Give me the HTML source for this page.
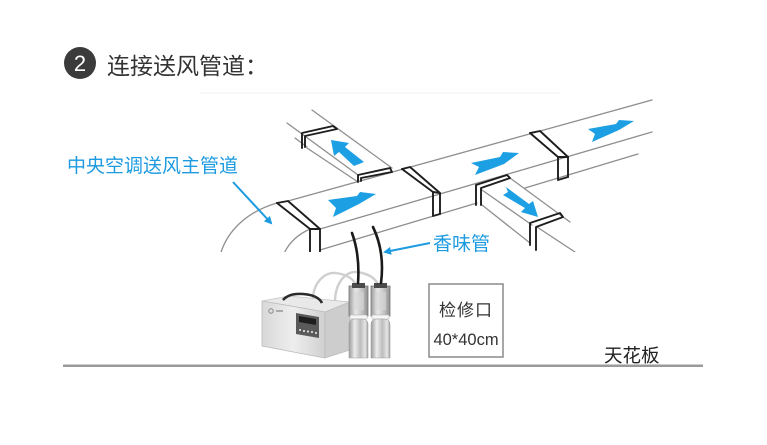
<!DOCTYPE html>
<html><head><meta charset="utf-8"><style>
html,body{margin:0;padding:0;background:#fff;}
svg{display:block;}
</style></head><body>
<svg width="767" height="445" viewBox="0 0 767 445" xmlns="http://www.w3.org/2000/svg">
<defs>
<clipPath id="cl"><rect x="0" y="0" width="767" height="252"/></clipPath>
<linearGradient id="front" x1="0" y1="0" x2="1" y2="0">
<stop offset="0" stop-color="#d8d8d8"/><stop offset="0.5" stop-color="#eeeeee"/><stop offset="1" stop-color="#d0d0d0"/></linearGradient>
<linearGradient id="bot" x1="0" y1="0" x2="1" y2="0">
<stop offset="0" stop-color="#9a9a9a"/><stop offset="0.3" stop-color="#ececec"/><stop offset="0.6" stop-color="#bdbdbd"/><stop offset="0.85" stop-color="#e6e6e6"/><stop offset="1" stop-color="#a2a2a2"/></linearGradient>
<linearGradient id="top" x1="0" y1="0" x2="1" y2="0">
<stop offset="0" stop-color="#9a9a9a"/><stop offset="0.35" stop-color="#e8e8e8"/><stop offset="0.7" stop-color="#c2c2c2"/><stop offset="1" stop-color="#8e8e8e"/></linearGradient>
<marker id="ah" markerWidth="8" markerHeight="8" refX="6" refY="4" orient="auto" markerUnits="userSpaceOnUse">
<path d="M0,0 L8,4 L0,8 z" fill="#1c9be0"/></marker>
</defs>

<!-- title -->
<circle cx="80" cy="63" r="16" fill="#3b3b3b"/>
<text x="80" y="71" font-family="Liberation Sans, sans-serif" font-size="22" fill="#fff" text-anchor="middle">2</text>
<text x="107" y="74" font-family="Liberation Sans, 'Noto Sans CJK SC', sans-serif" font-size="23" fill="#333">连接送风管道：</text>

<line x1="200" y1="93" x2="560" y2="93" stroke="#f6f6f6" stroke-width="1.5"/>

<!-- duct -->
<g clip-path="url(#cl)" fill="none" stroke-linecap="round">
<g stroke="#8f8f8f" stroke-width="1.3">
<path d="M277,203 C246,212 226,232 220,256"/>
<path d="M310,229 Q290,238 283,256"/>
<line x1="288" y1="201" x2="652" y2="100"/>
<line x1="320" y1="229" x2="652" y2="132"/>
<line x1="320" y1="250" x2="477" y2="203"/>
<line x1="525" y1="188" x2="638" y2="154"/>
<!-- upper branch -->
<line x1="287" y1="123" x2="358" y2="175"/>
<line x1="295" y1="138" x2="307" y2="147"/>
<line x1="307" y1="148" x2="358" y2="182"/>
<line x1="312" y1="110" x2="392" y2="168"/>
<!-- lower branch -->
<line x1="482" y1="190" x2="532" y2="225"/>
<line x1="510" y1="178" x2="570" y2="222"/>
<line x1="482" y1="205" x2="530" y2="243"/>
<line x1="537" y1="227" x2="575" y2="252"/>
</g>
<g stroke="#1e1e1e" stroke-width="1.9" stroke-linejoin="round">
<!-- left collar -->
<path d="M277,203 L288,201 L320,229 L320,256"/>
<path d="M277,203 L310,229 L310,256"/>
<path d="M310,229 L320,229"/>
<!-- middle collar -->
<path d="M402,169 L410,167 L440,193 L440,214"/>
<path d="M402,169 L433,192 L433,216 L440,214"/>
<path d="M433,192 L440,193"/>
<!-- right collar -->
<path d="M530,133 L540,131 L568,157 L568,177"/>
<path d="M530,133 L558,157 L558,180 L568,177"/>
<path d="M558,157 L568,157"/>
<!-- upper branch collars -->
<path d="M302,148 L302,133 L333,126 L337,129 L305,136 L305,147"/>
<path d="M358,182 L358,175 L390,168 L392,172 L361,178 L361,181"/>
<!-- lower branch collars -->
<path d="M476,205 L476,185 L507,175 L510,178 L481,188 L481,205"/>
<path d="M530,245 L530,223 L560,213 L563,217 L536,227 L536,250"/>
</g>
<g fill="#1c9fe3" stroke="none">
<polygon points="328,200 357,196 360,192 376,194 359,204 333,217 336,208"/>
<polygon points="471,163 500,157 503,152 519,153 504,164 475,175 479,167"/>
<polygon points="588,129 616,124 619,120 634,121 619,130 592,142 595,134"/>
<polygon points="331,140 349,143 345,147 364,162 354,166 339,152 334,156"/>
<polygon points="506,187 529,204 533,201 538,217 521,212 525,208 503,195 508,192"/>
</g>
</g>

<!-- labels -->
<text x="67" y="172" font-family="Liberation Sans, 'Noto Sans CJK SC', sans-serif" font-size="19" fill="#1c9be0">中央空调送风主管道</text>
<line x1="233" y1="182" x2="271" y2="223" stroke="#1c9be0" stroke-width="2" marker-end="url(#ah)"/>
<text x="433" y="250" font-family="Liberation Sans, 'Noto Sans CJK SC', sans-serif" font-size="19" fill="#1c9be0">香味管</text>
<line x1="430" y1="243" x2="385" y2="252" stroke="#1c9be0" stroke-width="2" marker-end="url(#ah)"/>

<!-- clear tubes -->
<g fill="none" stroke="#cfcfcf" stroke-width="2.4">
<path d="M313,302 C312,286 322,272 336,273 C349,275 355,280 356,287"/>
<path d="M335,302 C335,285 344,271 357,272 C371,274 377,280 379,287"/>
</g>

<!-- machine -->
<polygon points="262,301 289,296 350,302 325,312" fill="#e9e9e9" stroke="#c4c4c4" stroke-width="0.8"/>
<polygon points="262,301 325,312 325,358 262,346" fill="url(#front)" stroke="#bdbdbd" stroke-width="0.8"/>
<polygon points="325,312 350,302 350,350 325,358" fill="#cdcdcd" stroke="#bdbdbd" stroke-width="0.8"/>
<path d="M283,300 Q289,293 303,294 Q318,295 322,303" fill="none" stroke="#2a2a2a" stroke-width="2.6"/>
<polygon points="296,313 319,317 319,338 296,334" fill="#5a5a5a"/>
<polygon points="299,316 316,319 316,325 299,322" fill="#1e1e1e"/>
<g fill="#f2f2f2"><circle cx="300" cy="330" r="1"/><circle cx="304" cy="331" r="1"/><circle cx="308" cy="331.5" r="1"/><circle cx="312" cy="332" r="1"/><circle cx="316" cy="333" r="1"/></g>
<circle cx="271" cy="311" r="2.2" fill="none" stroke="#888" stroke-width="1"/>
<rect x="276" y="310" width="7" height="2" fill="#aaa"/>

<!-- bottles -->
<g>
<rect x="349" y="286" width="19" height="30" fill="url(#top)" stroke="#777" stroke-width="0.8"/>
<rect x="352" y="283" width="13" height="5" fill="#4a4a4a"/>
<rect x="353" y="292" width="11" height="18" fill="#d6d6d6" opacity="0.6"/>
<rect x="350" y="315" width="17" height="4" fill="#f6f6f6" stroke="#aaa" stroke-width="0.5"/>
<path d="M349,325 Q349,319 355,319 L362,319 Q368,319 368,325 L368,358 L349,358 Z" fill="url(#bot)" stroke="#a0a0a0" stroke-width="0.6"/>
<rect x="371" y="286" width="19" height="30" fill="url(#top)" stroke="#777" stroke-width="0.8"/>
<rect x="374" y="283" width="13" height="5" fill="#4a4a4a"/>
<rect x="375" y="292" width="11" height="18" fill="#d6d6d6" opacity="0.6"/>
<rect x="372" y="315" width="17" height="4" fill="#f6f6f6" stroke="#aaa" stroke-width="0.5"/>
<path d="M371,325 Q371,319 377,319 L384,319 Q390,319 390,325 L390,358 L371,358 Z" fill="url(#bot)" stroke="#a0a0a0" stroke-width="0.6"/>
</g>

<!-- black tubes -->
<g fill="none" stroke="#1a1a1a" stroke-width="2.6" stroke-linecap="round">
<path d="M352,233 Q360,255 358,283"/>
<path d="M373,227 Q385,252 381,283"/>
</g>

<!-- inspection box -->
<rect x="429" y="284" width="74" height="73" fill="#fff" stroke="#8a8a8a" stroke-width="1.5"/>
<text x="466" y="316" font-family="Liberation Sans, 'Noto Sans CJK SC', sans-serif" font-size="17" fill="#333" text-anchor="middle" letter-spacing="1">检修口</text>
<text x="466" y="345" font-family="Liberation Sans, sans-serif" font-size="16.5" fill="#333" text-anchor="middle">40*40cm</text>

<text x="604" y="362" font-family="Liberation Sans, 'Noto Sans CJK SC', sans-serif" font-size="18.5" fill="#222">天花板</text>

<rect x="63" y="364.5" width="640" height="2.5" fill="#9a9a9a"/>
</svg>
</body></html>
